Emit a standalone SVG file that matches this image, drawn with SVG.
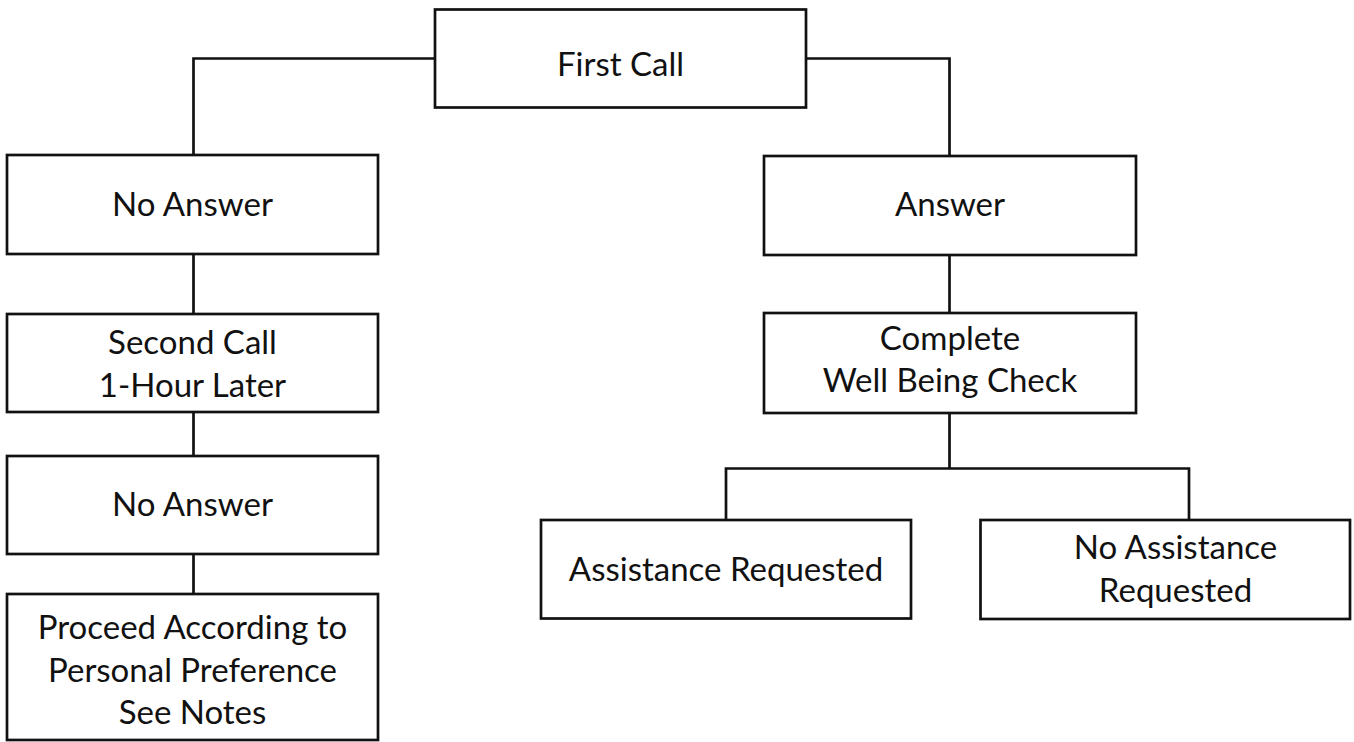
<svg xmlns="http://www.w3.org/2000/svg" width="1354" height="742" viewBox="0 0 1354 742">
<style>
.box{fill:#fff;stroke:#111;stroke-width:2.7}
.conn{fill:none;stroke:#111;stroke-width:2.7}
text{font-family:Lato,"Open Sans","Liberation Sans",sans-serif;font-size:33px;fill:#111;text-anchor:middle}
</style>
<rect width="1354" height="742" fill="#fff"/>
<g id="connectors">
<path class="conn" d="M435 58.5 H193.5 V155"/>
<path class="conn" d="M806 58.5 H949.5 V156"/>
<path class="conn" d="M193.5 254 V314"/>
<path class="conn" d="M193.5 412 V456"/>
<path class="conn" d="M193.5 554 V594"/>
<path class="conn" d="M949.5 255 V313"/>
<path class="conn" d="M949.5 413 V468.5 M726 520 V468.5 H1189 V520"/>
</g>
<g id="first-call">
<rect class="box" x="435" y="9.5" width="371" height="98"/>
<text x="620.5" y="76">First Call</text>
</g>
<g id="no-answer-1">
<rect class="box" x="7" y="155" width="371" height="99"/>
<text x="192.5" y="216">No Answer</text>
</g>
<g id="answer">
<rect class="box" x="764" y="156" width="372" height="99"/>
<text x="950" y="216">Answer</text>
</g>
<g id="second-call">
<rect class="box" x="7" y="314" width="371" height="98"/>
<text x="192.5" y="354">Second Call</text>
<text x="192.5" y="396.5">1-Hour Later</text>
</g>
<g id="complete-check">
<rect class="box" x="764" y="313" width="372" height="100"/>
<text x="950" y="350">Complete</text>
<text x="950" y="392">Well Being Check</text>
</g>
<g id="no-answer-2">
<rect class="box" x="7" y="456" width="371" height="98"/>
<text x="192.5" y="516">No Answer</text>
</g>
<g id="proceed">
<rect class="box" x="7" y="594" width="371" height="146"/>
<text x="192.5" y="638.5">Proceed According to</text>
<text x="192.5" y="681.5">Personal Preference</text>
<text x="192.5" y="723.5">See Notes</text>
</g>
<g id="assistance-requested">
<rect class="box" x="541" y="520" width="370" height="98.5"/>
<text x="726" y="580.5">Assistance Requested</text>
</g>
<g id="no-assistance-requested">
<rect class="box" x="980.5" y="520" width="369.5" height="99"/>
<text x="1175.5" y="558.5">No Assistance</text>
<text x="1175.5" y="601.5">Requested</text>
</g>
</svg>
